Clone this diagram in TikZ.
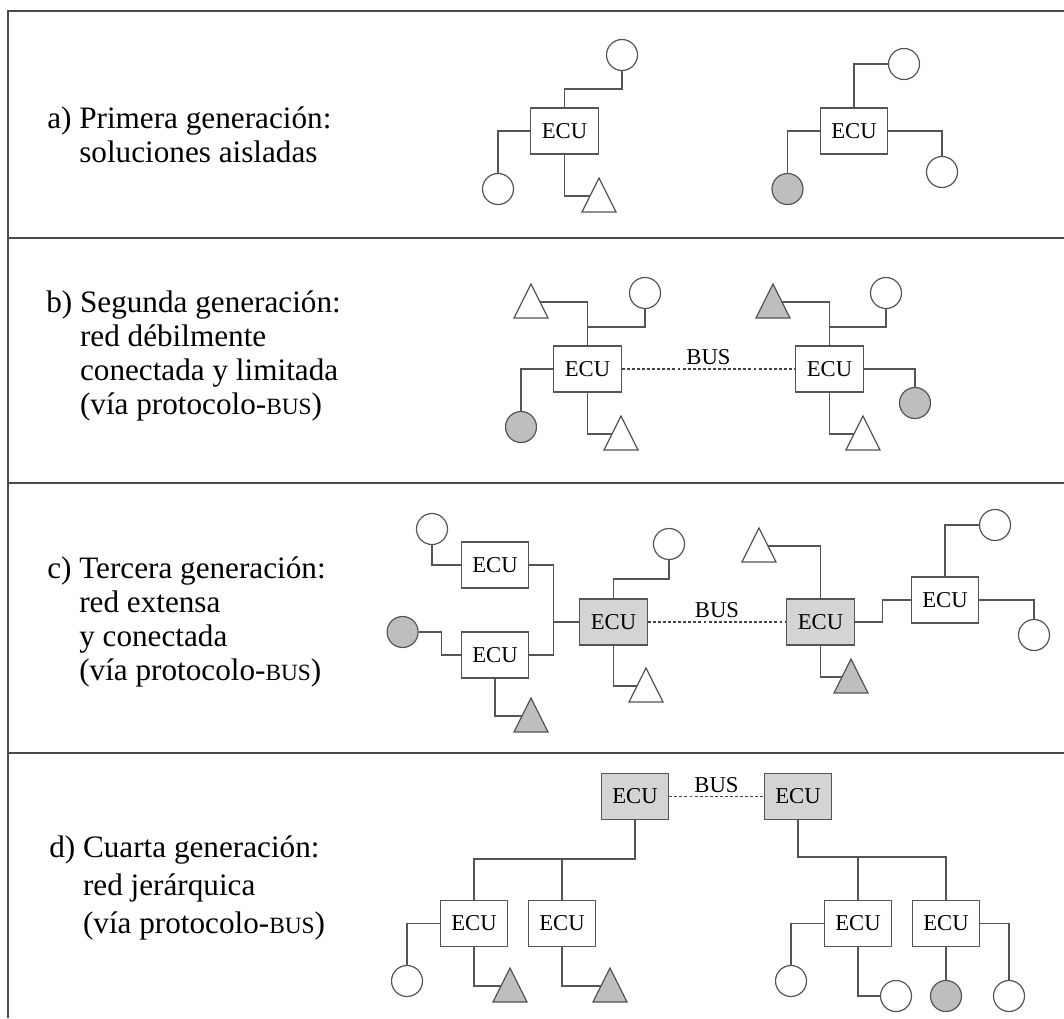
\documentclass[tikz,border=0pt]{standalone}
\usepackage{fontspec}
\setmainfont{Liberation Serif}
\usetikzlibrary{calc}

\definecolor{linegray}{HTML}{555555}
\definecolor{framegray}{HTML}{4A4A4A}
\definecolor{sensorgray}{HTML}{BEBEBE}
\definecolor{ecugray}{HTML}{D4D4D4}

\tikzset{
  wire/.style={draw=linegray, line width=0.9pt},
  ecu/.style={rectangle, draw=linegray, line width=0.9pt, fill=white,
    minimum width=50.5pt, minimum height=34.5pt, inner sep=0pt,
    font=\fontsize{17pt}{17pt}\selectfont},
  gateway/.style={ecu, fill=ecugray},
  sens/.style={circle, draw=linegray, line width=0.9pt, fill=white,
    minimum size=23.25pt, inner sep=0pt},
  sensfill/.style={sens, fill=sensorgray},
  tri/.style={draw=linegray, line width=0.9pt, line join=miter},
  bus/.style={draw=linegray!80!black, line width=1.1pt, dash pattern=on 2.2pt off 1.6pt},
  buslabel/.style={above, inner sep=2.5pt, font=\fontsize{17pt}{17pt}\selectfont},
  frame/.style={draw=framegray, line width=1.4pt},
  caption/.style={anchor=base west, inner sep=0pt,
    font=\fontsize{23.4pt}{25.7pt}\selectfont}
}

% small-capital "BUS" inside the captions
\newcommand{\smallbus}{{\fontsize{17.5pt}{17.5pt}\selectfont BUS}}

% triangular sensor: name, x, y of the connection point, fill option
\newcommand{\sensortri}[4]{%
  \coordinate (#1) at (#2,#3);
  \coordinate (#1-w) at ($(#1)+(-9,0)$);
  \coordinate (#1-e) at ($(#1)+(9,0)$);
  \draw[tri,#4] ($(#1)+(0,-18)$) -- ($(#1)+(17,16)$) -- ($(#1)+(-17,16)$) -- cycle;}

\begin{document}
\begin{tikzpicture}[x=0.75pt,y=-0.75pt]
\useasboundingbox (0,0) rectangle (1064,1018);

% outer frame and panel separators
\draw[frame] (1064,11) -- (8,11) -- (8,1018);
\draw[frame] (8,238) -- (1064,238);
\draw[frame] (8,483) -- (1064,483);
\draw[frame] (8,753) -- (1064,753);

% captions
\node[caption, font=\fontsize{23.4pt}{25.5pt}\selectfont] (capA) at (47,128)
  {\begin{tabular}[t]{@{}l@{\ }l@{}}a) & Primera generación:\\ & soluciones aisladas\end{tabular}};
\node[caption] (capB) at (46,312)
  {\begin{tabular}[t]{@{}l@{\ }l@{}}b) & Segunda generación:\\ & red débilmente\\ & conectada y limitada\\ & (vía protocolo-\smallbus)\end{tabular}};
\node[caption] (capC) at (47,578)
  {\begin{tabular}[t]{@{}l@{\ }l@{}}c) & Tercera generación:\\ & red extensa\\ & y conectada\\ & (vía protocolo-\smallbus)\end{tabular}};
\node[caption, font=\fontsize{23.4pt}{28.5pt}\selectfont] (capD) at (49,857)
  {\begin{tabular}[t]{@{}l@{\ }l@{}}d) & Cuarta generación:\\ & red jerárquica\\ & (vía protocolo-\smallbus)\end{tabular}};

% ---------- a) isolated units ----------
\node[ecu] (a1) at (564.5,131) {ECU};
\node[sens] (a1t) at (622,55) {};
\node[sens] (a1l) at (498,189) {};
\sensortri{a1b}{599}{196}{fill=white}
\draw[wire] (a1.north) -- (a1.north |- 0,89) -| (a1t.south);
\draw[wire] (a1.west) -| (a1l.north);
\draw[wire] (a1.south) |- (a1b-w);

\node[ecu] (a2) at (854,131) {ECU};
\node[sens] (a2t) at (904,64) {};
\node[sensfill] (a2l) at (787.5,189) {};
\node[sens] (a2r) at (942,172) {};
\draw[wire] (a2.north) |- (a2t.west);
\draw[wire] (a2.west) -| (a2l.north);
\draw[wire] (a2.east) -| (a2r.north);

% ---------- b) two units on a bus ----------
\node[ecu] (b1) at (587.5,369) {ECU};
\sensortri{b1tl}{531}{302}{fill=white}
\node[sens] (b1tr) at (645,293) {};
\node[sensfill] (b1l) at (521,427) {};
\sensortri{b1b}{621}{434}{fill=white}
\draw[wire] (b1.north) |- (b1tl-e);
\draw[wire] (b1tr.south) |- (b1.north |- 0,327);
\draw[wire] (b1.west) -| (b1l.north);
\draw[wire] (b1.south) |- (b1b-w);

\node[ecu] (b2) at (829.5,369) {ECU};
\sensortri{b2tl}{773}{302}{fill=sensorgray}
\node[sens] (b2tr) at (886,293) {};
\node[sensfill] (b2r) at (915,403) {};
\sensortri{b2b}{863}{434}{fill=white}
\draw[wire] (b2.north) |- (b2tl-e);
\draw[wire] (b2tr.south) |- (b2.north |- 0,327);
\draw[wire] (b2.east) -| (b2r.north);
\draw[wire] (b2.south) |- (b2b-w);

\draw[bus] (b1.east) -- (b2.west) node[midway, buslabel] {BUS};

% ---------- c) extended network ----------
\node[ecu] (c1) at (495,565) {ECU};
\node[ecu] (c2) at (495,655) {ECU};
\node[gateway] (c3) at (613.5,622) {ECU};
\node[gateway] (c4) at (820.5,622) {ECU};
\node[ecu] (c5) at (945,600) {ECU};

\node[sens] (c1c) at (432,529) {};
\node[sensfill] (c2c) at (402.6,632) {};
\sensortri{c2b}{531}{716}{fill=sensorgray}
\node[sens] (c3t) at (669,544) {};
\sensortri{c3b}{646}{686}{fill=white}
\sensortri{c4tl}{759}{546}{fill=white}
\sensortri{c4b}{851}{677}{fill=sensorgray}
\node[sens] (c5t) at (995,525) {};
\node[sens] (c5r) at (1034,635) {};
\coordinate (cj) at (553.5,622);

\draw[wire] (c1c.south) |- (c1.west);
\draw[wire] (c2c.east) -| ([xshift=-14.25pt]c2.west) -- (c2.west);
\draw[wire] (c2.south) |- (c2b-w);
\draw[wire] (c1.east) -| (cj) |- (c2.east);
\draw[wire] (cj) -- (c3.west);
\draw[wire] (c3.north) -- (c3.north |- 0,579) -| (c3t.south);
\draw[wire] (c3.south) |- (c3b-w);
\draw[bus] (c3.east) -- (c4.west) node[midway, buslabel] {BUS};
\draw[wire] (c4.north) |- (c4tl-e);
\draw[wire] (c4.south) |- (c4b-w);
\draw[wire] (c4.east) -| ([xshift=-21pt]c5.west) -- (c5.west);
\draw[wire] (c5.north) |- (c5t.west);
\draw[wire] (c5.east) -| (c5r.north);

% ---------- d) hierarchical network ----------
\node[gateway] (d1) at (635,796.5) {ECU};
\node[gateway] (d2) at (798,796.5) {ECU};
\draw[bus] (d1.east) -- (d2.west) node[midway, buslabel] {BUS};

\node[ecu] (d3) at (474,923.5) {ECU};
\node[ecu] (d4) at (562,923.5) {ECU};
\node[ecu] (d5) at (858,923.5) {ECU};
\node[ecu] (d6) at (946,923.5) {ECU};

\draw[wire] (d1.south) |- (d3.north |- 0,859) -- (d3.north);
\draw[wire] (d4.north) -- (d4.north |- 0,859);
\draw[wire] (d2.south) |- (d6.north |- 0,857) -- (d6.north);
\draw[wire] (d5.north) -- (d5.north |- 0,857);

\node[sens] (d3l) at (407,981) {};
\sensortri{d3b}{510}{986}{fill=sensorgray}
\sensortri{d4b}{610}{986}{fill=sensorgray}
\node[sens] (d5l) at (791,981) {};
\node[sens] (d5b) at (896,996) {};
\node[sensfill] (d6b) at (946,996) {};
\node[sens] (d6r) at (1009,996) {};

\draw[wire] (d3.west) -| (d3l.north);
\draw[wire] (d3.south) |- (d3b-w);
\draw[wire] (d4.south) |- (d4b-w);
\draw[wire] (d5.west) -| (d5l.north);
\draw[wire] (d5.south) |- (d5b.west);
\draw[wire] (d6.south) -- (d6b.north);
\draw[wire] (d6.east) -| (d6r.north);
\end{tikzpicture}
\end{document}
